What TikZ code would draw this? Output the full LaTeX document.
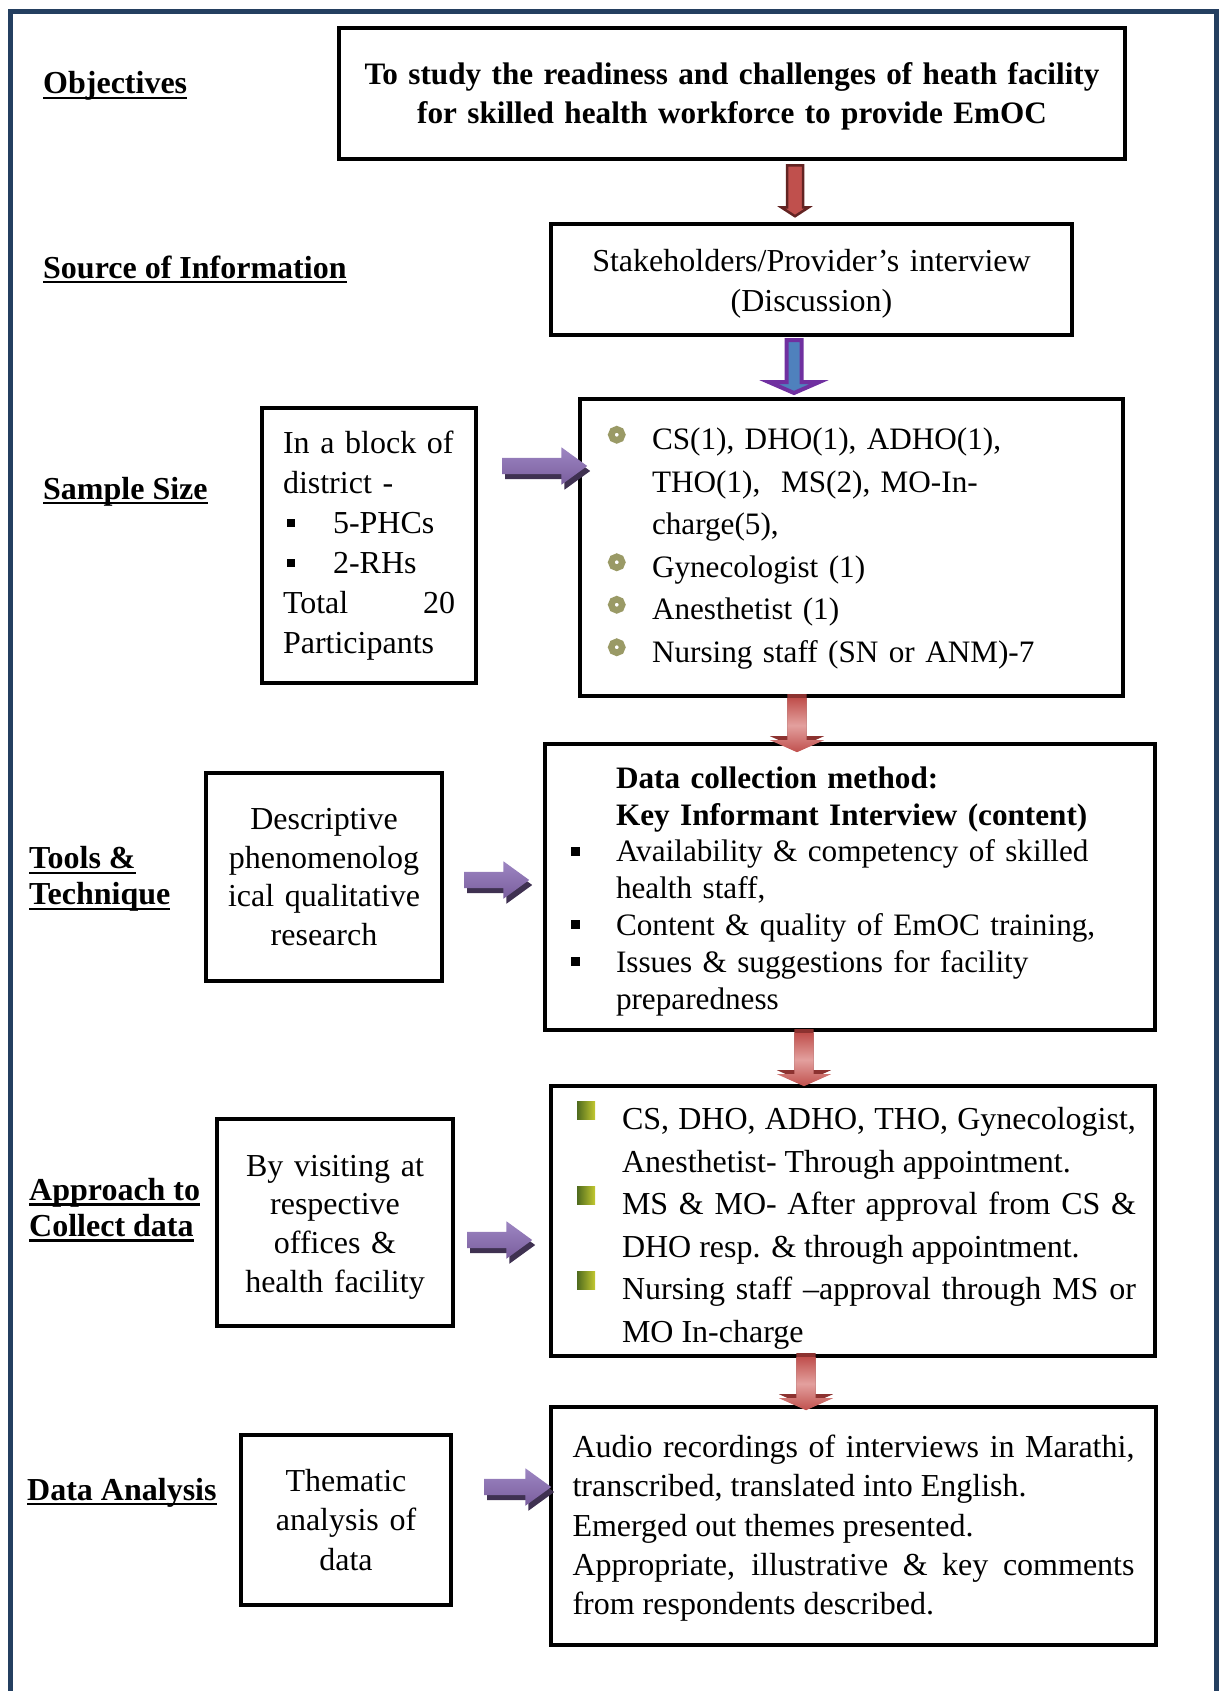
\documentclass[tikz,border=0pt]{standalone}
\usepackage{fontspec}
\setmainfont{Liberation Serif}
\usepackage{xcolor}
\usepackage{tikz}
\usetikzlibrary{shapes.arrows,shadows,positioning}
\definecolor{framenavy}{HTML}{243F60}
\definecolor{arrowmaroon}{HTML}{632423}
\definecolor{arrowbrick}{HTML}{C0504D}
\definecolor{arrowpink}{HTML}{E3A09E}
\definecolor{arrowshade}{HTML}{8C3230}
\definecolor{arrowviolet}{HTML}{7030A0}
\definecolor{arrowsteel}{HTML}{4F81BD}
\definecolor{arrowlilac}{HTML}{7A5E9E}
\definecolor{arrowlilaclight}{HTML}{9D86C2}
\definecolor{arrowplum}{HTML}{3F3151}
\definecolor{ringolive}{HTML}{9A9A66}
\definecolor{leafdark}{HTML}{4F6B1E}
\definecolor{leaflight}{HTML}{C2C830}

\newcommand\sqbullet{\rule[6pt]{9pt}{9pt}}
\newcommand\ringbullet{\hspace{1pt}\tikz[x=1pt,y=1pt,baseline=-15pt]\draw[ringolive,line width=6.5pt] (0,0) circle (5.5pt);}
\newcommand\leafbullet{\tikz[x=1pt,y=1pt,baseline=-19pt]\shade[left color=leafdark,right color=leaflight] (-9,-9) rectangle (9,9);}
\newcommand\hangitem[2]{\noindent\hangindent=#1\hangafter=1\makebox[#1][l]{#2}}
\newcommand\ulabel[1]{{\setbox0=\hbox{#1}\rlap{\rule[-5pt]{\wd0}{2.2pt}}\box0}}
\newcommand\topstrut[1]{\rule{0pt}{#1}}

\begin{document}
\begin{tikzpicture}[x=1pt,y=-1pt,font=\fontsize{32}{40}\selectfont]
  \tikzset{box/.style={draw,line width=4pt,inner sep=0pt},
    heading/.style={font=\fontsize{32}{36}\selectfont\bfseries,inner sep=0pt,align=left},
    thinarrow/.style={single arrow,draw=arrowmaroon,fill=arrowbrick,line width=2.5pt,rotate=-90,anchor=tail,inner xsep=0pt,inner ysep=6.75pt,minimum width=0pt,single arrow head extend=5.5pt,single arrow tip angle=114},
    violetarrow/.style={single arrow,draw=arrowviolet,fill=arrowsteel,line width=4pt,rotate=-90,anchor=tail,inner xsep=0pt,inner ysep=5.5pt,minimum width=0pt,single arrow head extend=17.5pt,single arrow tip angle=133},
    redarrow/.style={single arrow,top color=arrowbrick,bottom color=arrowbrick,middle color=arrowpink,rotate=-90,anchor=tail,inner xsep=0pt,inner ysep=9.5pt,minimum width=0pt,single arrow head extend=17.5pt,single arrow tip angle=132,drop shadow={shadow xshift=0pt,shadow yshift=4pt,fill=arrowshade,opacity=1}},
    purplearrow/.style={single arrow,top color=arrowlilaclight,bottom color=arrowlilac,anchor=tail,inner xsep=0pt,inner ysep=8pt,minimum width=0pt,single arrow head extend=10.5pt,single arrow tip angle=72,drop shadow={shadow xshift=3pt,shadow yshift=-5pt,fill=arrowplum,opacity=1}}}

  \useasboundingbox (0,0) rectangle (1219,1691);
  \draw[framenavy,line width=5pt] (10.5,1700) -- (10.5,11.5) -- (1216,11.5) -- (1216,1700);

  % row labels
  \node[heading,anchor=base west] (objlabel) at (43,94) {\ulabel{Objectives}};
  \node[heading,anchor=base west] (sourcelabel) at (43,278) {\ulabel{Source of Information}};
  \node[heading,anchor=base west] (samplelabel) at (43,499) {\ulabel{Sample Size}};
  \node[heading,anchor=west] (toolslabel) at (29,879) {\ulabel{Tools \&}\\\ulabel{Technique}};
  \node[heading,anchor=west] (approachlabel) at (29,1210) {\ulabel{Approach to}\\\ulabel{Collect data}};
  \node[heading,anchor=base west] (analysislabel) at (27,1500) {\ulabel{Data Analysis}};

  % boxes
  \node[box,minimum width=786,minimum height=131,text width=760,align=center,font=\fontsize{31.2}{39}\selectfont\bfseries] (objective) at (732,93.5)
    {\topstrut{28.5pt}To study the readiness and challenges of heath facility\\for skilled health workforce to provide EmOC};
  \node[box,minimum width=521,minimum height=111,text width=480,align=center,font=\fontsize{32}{40}\selectfont] (interview) at (811.5,279.5)
    {\topstrut{30.6pt}Stakeholders/Provider’s interview\\(Discussion)};
  \node[box,minimum width=214,minimum height=275,text width=172,align=left] (block) at (369,545.5)
    {In a block of\newline district -\newline
    \makebox[50pt][l]{\hspace{4pt}\rule[6pt]{8pt}{8pt}}5-PHCs\newline
    \makebox[50pt][l]{\hspace{4pt}\rule[6pt]{8pt}{8pt}}2-RHs\newline
    Total\hfill 20\newline Participants};
  \node[box,minimum width=543,minimum height=297,text width=489,align=left,font=\fontsize{31.2}{42.5}\selectfont] (participants) at (851.5,547.5)
    {\hangitem{45pt}{\ringbullet}CS(1), DHO(1), ADHO(1),\newline THO(1),~ MS(2), MO-In-\newline charge(5),\par
    \hangitem{45pt}{\ringbullet}Gynecologist (1)\par
    \hangitem{45pt}{\ringbullet}Anesthetist (1)\par
    \hangitem{45pt}{\ringbullet}Nursing staff (SN or ANM)-7\par};
  \node[box,minimum width=236,minimum height=208,text width=220,align=center,font=\fontsize{32}{38.5}\selectfont] (design) at (324,877)
    {Descriptive\\phenomenolog\\ical qualitative\\research};
  \node[box,minimum width=610,minimum height=286,text width=558,align=left,font=\fontsize{31.2}{36.8}\selectfont] (method) at (850,887)
    {\hangitem{45pt}{\topstrut{30pt}}\textbf{Data collection method:}\newline\textbf{Key Informant Interview (content)}\par
    \hangitem{45pt}{\sqbullet}Availability \& competency of skilled\newline health staff,\par
    \hangitem{45pt}{\sqbullet}Content \& quality of EmOC training,\par
    \hangitem{45pt}{\sqbullet}Issues \& suggestions for facility\newline preparedness\par};
  \node[box,minimum width=236,minimum height=207,text width=220,align=center,font=\fontsize{32}{38.8}\selectfont] (visit) at (335,1222.5)
    {\topstrut{30.6pt}By visiting at\\respective\\offices \&\\health facility};
  \node[box,minimum width=604,minimum height=270,text width=566,align=justify,font=\fontsize{32}{42.5}\selectfont] (appointment) at (853,1221)
    {\leftskip=7pt
    \hangitem{45pt}{\leafbullet\topstrut{36.6pt}}CS, DHO, ADHO, THO, Gynecologist,\linebreak Anesthetist- Through appointment.\par
    \hangitem{45pt}{\leafbullet}MS \& MO- After approval from CS \&\linebreak DHO resp. \& through appointment.\par
    \hangitem{45pt}{\leafbullet}Nursing staff –approval through MS or\linebreak MO In-charge\par};
  \node[box,minimum width=210,minimum height=170,text width=190,align=center,font=\fontsize{32}{39.4}\selectfont] (thematic) at (346,1520)
    {Thematic\\analysis of\\data};
  \node[box,minimum width=605,minimum height=238,text width=562,align=justify,font=\fontsize{32}{39.3}\selectfont] (transcript) at (853.5,1526)
    {\topstrut{27pt}Audio recordings of interviews in Marathi,\linebreak transcribed, translated into English.\newline Emerged out themes presented.\newline Appropriate, illustrative \& key comments\linebreak from respondents described.};

  % block arrows
  \node[thinarrow,minimum height=51] (down1) at (795,164) {};
  \node[violetarrow,minimum height=53] (down2) at (794,338) {};
  \node[redarrow,minimum height=54] (down3) at (797,698) {};
  \node[redarrow,minimum height=53] (down4) at (804,1033) {};
  \node[redarrow,minimum height=53] (down5) at (806,1357) {};
  \node[purplearrow,minimum height=85] (right1) at (502,466) {};
  \node[purplearrow,minimum height=65] (right2) at (464,880) {};
  \node[purplearrow,minimum height=65] (right3) at (467,1240) {};
  \node[purplearrow,minimum height=67] (right4) at (484,1487) {};
\end{tikzpicture}
\end{document}
